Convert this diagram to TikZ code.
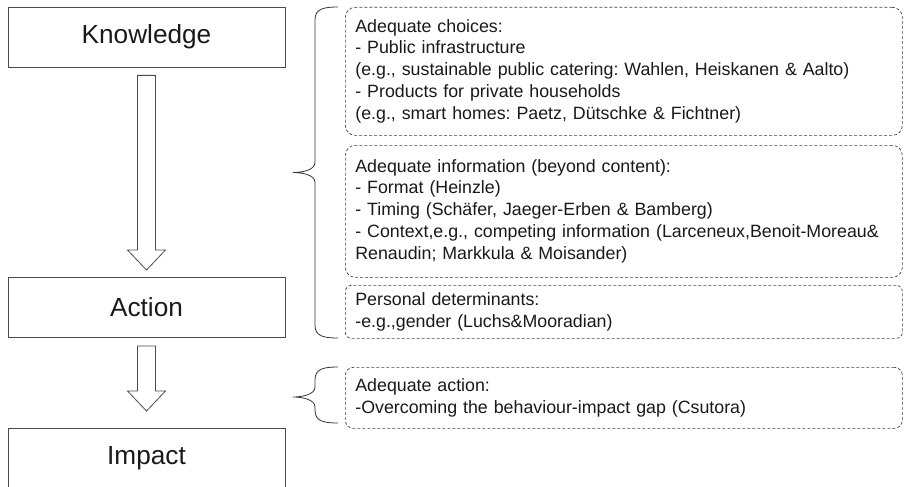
\documentclass[tikz,border=0pt]{standalone}
\usepackage{fontspec}
\setmainfont{Liberation Sans}
\frenchspacing
\usetikzlibrary{calc}

% wide arrow from a start point down to a tip
\newcommand{\widearrow}[2]{%
  \draw[widestyle] let \p1=(#1), \p2=(#2) in
    (\x1-9,\y1) -- (\x1+9,\y1) -- (\x1+9,\y2+20) -- (\x1+19,\y2+20)
    -- (\p2) -- (\x1-19,\y2+20) -- (\x1-9,\y2+20) -- cycle;}

% curly brace: top end, tip, bottom end
\newcommand{\curly}[3]{%
  \draw[bracestyle] let \p1=(#1), \p2=(#2), \p3=(#3) in
    (\p1) .. controls (\x2+30,\y1) and (\x2+22,\y1-2) .. (\x2+22,\y1-13)
    -- (\x2+22,\y2+10) .. controls (\x2+22,\y2+2) and (\x2+8,\y2) .. (\p2)
    .. controls (\x2+8,\y2) and (\x2+22,\y2-2) .. (\x2+22,\y2-10)
    -- (\x2+22,\y3+13) .. controls (\x2+22,\y3+2) and (\x2+30,\y3) .. (\p3);}

\begin{document}
\begin{tikzpicture}[x=1pt, y=-1pt, text=black!90,
  stage/.style={draw=black!70, line width=0.8pt, minimum width=277pt,
    minimum height=60pt, inner sep=0pt, font=\fontsize{26.2}{30}\selectfont},
  factor/.style={draw=black!75, line width=0.7pt, dash pattern=on 3pt off 2pt,
    rounded corners=10pt, anchor=north west, inner xsep=10pt, inner ysep=0pt,
    text width=537pt, minimum height=#1, align=left,
    font=\fontsize{17.8}{21.7}\selectfont},
  widestyle/.style={draw=black!70, line width=0.8pt, fill=white},
  bracestyle/.style={draw=black!80, line width=0.8pt}]
\useasboundingbox (0,0) rectangle (924,487);

% stages
\node[stage] (know) at (146.5,37) {Knowledge};
\node[stage] (act) at (146.5,307.5) {Action};
\node[stage] (imp) at (146.5,458.5) {Impact};

% wide arrows
\coordinate (tipA) at (146.5,270);
\coordinate (tipB) at (146.5,411);
\widearrow{$(know.south)+(0,8)$}{tipA}
\widearrow{$(act.south)+(0,8)$}{tipB}

% braces
\coordinate (brAtop) at (338,7);
\coordinate (brAtip) at (293,172.5);
\coordinate (brAbot) at (338,338);
\coordinate (brBtop) at (338,367);
\coordinate (brBtip) at (293,397);
\coordinate (brBbot) at (338,423);
\curly{brAtop}{brAtip}{brAbot}
\curly{brBtop}{brBtip}{brBbot}

% factors
\node[factor=128pt] (choices) at (345,7) {\begin{tabular}{@{}l@{}}
Adequate choices:\\
- Public infrastructure\\
(e.g., sustainable public catering: Wahlen, Heiskanen \& Aalto)\\
- Products for private households\\
(e.g., smart homes: Paetz, Dütschke \& Fichtner)\end{tabular}};
\node[factor=132pt] (info) at (345,145) {\begin{tabular}{@{}l@{}}
Adequate information (beyond content):\\
- Format (Heinzle)\\
- Timing (Schäfer, Jaeger-Erben \& Bamberg)\\
- Context,e.g., competing information (Larceneux,Benoit-Moreau\&\\
Renaudin; Markkula \& Moisander)\end{tabular}};
\node[factor=53pt, rounded corners=6pt] (pers) at (345,285) {\begin{tabular}{@{}l@{}}
Personal determinants:\\
-e.g.,gender (Luchs\&Mooradian)\end{tabular}};
\node[factor=61pt, rounded corners=8pt] (adeq) at (345,367) {\begin{tabular}{@{}l@{}}
Adequate action:\\
-Overcoming the behaviour-impact gap (Csutora)\end{tabular}};
\end{tikzpicture}
\end{document}
